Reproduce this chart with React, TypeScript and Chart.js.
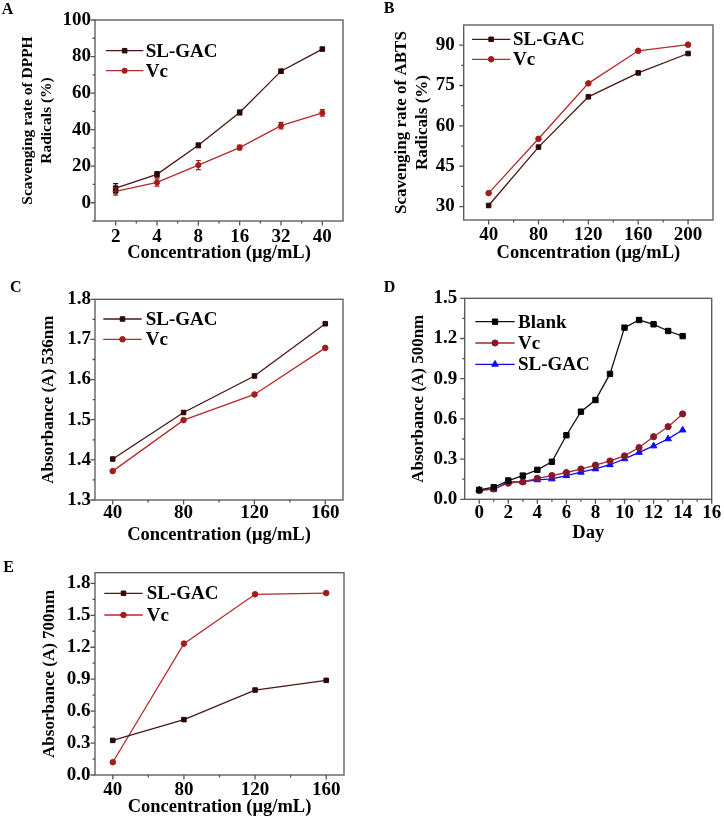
import React, { useEffect, useRef } from 'react';
import { Chart, registerables } from 'chart.js';

Chart.register(...registerables);

const FONT = '"Liberation Serif", "Times New Roman", Times, serif';
Chart.defaults.font.family = FONT;
Chart.defaults.font.weight = 'bold';
Chart.defaults.color = '#000';

// ---------------- Data ----------------
// Panel A: DPPH
const A_CATEGORIES = ['2', '4', '8', '16', '32', '40'];
const A_SLGAC = [8.0, 15.5, 31.4, 49.4, 72.0, 84.1];
const A_SLGAC_ERR = [2.5, 1.5, 1.2, 1.3, 1.0, 0.8];
const A_VC = [6.2, 11.1, 20.6, 30.2, 42.2, 49.2];
const A_VC_ERR = [2.0, 2.0, 2.5, 1.3, 1.8, 1.8];
const A_Y_TICKS = [0, 20, 40, 60, 80, 100];
const A_Y_MINOR = [-10, 10, 30, 50, 70, 90];
const A_X_MINOR = [0.5, 1.5, 2.5, 3.5, 4.5];

// Panel B: ABTS
const B_X = [40, 80, 120, 160, 200];
const B_SLGAC = [30.4, 52.1, 70.8, 79.7, 86.9];
const B_VC = [35.0, 55.2, 75.8, 87.9, 90.2];
const B_X_TICKS = [40, 80, 120, 160, 200];
const B_X_MINOR = [60, 100, 140, 180];
const B_Y_TICKS = [30, 45, 60, 75, 90];
const B_Y_MINOR = [37.5, 52.5, 67.5, 82.5];

// Panel C: Absorbance 536nm
const C_X = [40, 80, 120, 160];
const C_SLGAC = [1.402, 1.518, 1.609, 1.739];
const C_VC = [1.372, 1.499, 1.563, 1.679];
const C_X_TICKS = [40, 80, 120, 160];
const C_X_MINOR = [60, 100, 140];
const C_Y_TICKS = [1.3, 1.4, 1.5, 1.6, 1.7, 1.8];
const C_Y_MINOR = [1.35, 1.45, 1.55, 1.65, 1.75];

// Panel D: Absorbance 500nm over days
const D_DAYS = [0, 1, 2, 3, 4, 5, 6, 7, 8, 9, 10, 11, 12, 13, 14];
const D_BLANK = [0.07, 0.09, 0.14, 0.177, 0.22, 0.28, 0.478, 0.654, 0.741, 0.936, 1.281, 1.338, 1.306, 1.256, 1.218];
const D_VC = [0.065, 0.077, 0.12, 0.13, 0.157, 0.177, 0.2, 0.226, 0.255, 0.286, 0.324, 0.386, 0.467, 0.542, 0.637];
const D_SLGAC = [0.07, 0.075, 0.13, 0.13, 0.145, 0.152, 0.176, 0.202, 0.227, 0.258, 0.302, 0.35, 0.398, 0.451, 0.517];
const D_X_TICKS = [0, 2, 4, 6, 8, 10, 12, 14, 16];
const D_X_MINOR = [1, 3, 5, 7, 9, 11, 13, 15];
const D_Y_TICKS = [0, 0.3, 0.6, 0.9, 1.2, 1.5];
const D_Y_MINOR = [0.15, 0.45, 0.75, 1.05, 1.35];

// Panel E: Absorbance 700nm
const E_X = [40, 80, 120, 160];
const E_SLGAC = [0.325, 0.52, 0.798, 0.889];
const E_VC = [0.12, 1.234, 1.697, 1.709];
const E_X_TICKS = [40, 80, 120, 160];
const E_X_MINOR = [60, 100, 140];
const E_Y_TICKS = [0, 0.3, 0.6, 0.9, 1.2, 1.5, 1.8];
const E_Y_MINOR = [0.15, 0.45, 0.75, 1.05, 1.35, 1.65];

// ---------------- Styles ----------------
const SL_LINE = '#4a1616';
const SL_MARK = '#2e0606';
const VC_LINE = '#b52a2c';
const VC_MARK = '#a31c1c';
const D_VC_LINE = '#9c2a3a';
const D_VC_MARK = '#85182a';
const D_SL_COLOR = '#0a0aff';
const TICK_SIZE = 19;
const TITLE_SIZE = 18.5;

function drawMarker(ctx: CanvasRenderingContext2D, style: string, x: number, y: number, r: number, fill: string, stroke: string) {
  ctx.save();
  ctx.fillStyle = fill;
  ctx.strokeStyle = stroke;
  ctx.lineWidth = 1;
  ctx.beginPath();
  if (style === 'rect') {
    const s = r * Math.SQRT1_2;
    ctx.rect(x - s, y - s, 2 * s, 2 * s);
  } else if (style === 'triangle') {
    let rad = 0;
    ctx.moveTo(x + Math.sin(rad) * r, y - Math.cos(rad) * r);
    rad += (2 * Math.PI) / 3;
    ctx.lineTo(x + Math.sin(rad) * r, y - Math.cos(rad) * r);
    rad += (2 * Math.PI) / 3;
    ctx.lineTo(x + Math.sin(rad) * r, y - Math.cos(rad) * r);
    ctx.closePath();
  } else {
    ctx.arc(x, y, r, 0, Math.PI * 2);
  }
  ctx.fill();
  ctx.stroke();
  ctx.restore();
}

const framePlugin = {
  id: 'frame',
  beforeDatasetsDraw(chart: any, _a: any, o: any) {
    const { ctx, chartArea: a } = chart;
    const xs = chart.scales.x;
    const ys = chart.scales.y;
    ctx.save();
    ctx.strokeStyle = '#555555';
    ctx.lineWidth = 1.3;
    ctx.strokeRect(a.left, a.top, a.right - a.left, a.bottom - a.top);
    ctx.beginPath();
    xs.ticks.forEach((_t: any, i: number) => {
      const p = xs.getPixelForTick(i);
      ctx.moveTo(p, a.bottom);
      ctx.lineTo(p, a.bottom + 4.5);
    });
    (o.minorX || []).forEach((v: number) => {
      const p = xs.getPixelForValue(v);
      ctx.moveTo(p, a.bottom);
      ctx.lineTo(p, a.bottom + 2.5);
    });
    ys.ticks.forEach((_t: any, i: number) => {
      const p = ys.getPixelForTick(i);
      ctx.moveTo(a.left, p);
      ctx.lineTo(a.left - 4.5, p);
    });
    (o.minorY || []).forEach((v: number) => {
      const p = ys.getPixelForValue(v);
      ctx.moveTo(a.left, p);
      ctx.lineTo(a.left - 2.5, p);
    });
    ctx.stroke();
    ctx.restore();
  },
};

const errorPlugin = {
  id: 'errbars',
  afterDatasetsDraw(chart: any) {
    const ctx = chart.ctx;
    const ys = chart.scales.y;
    chart.data.datasets.forEach((ds: any, di: number) => {
      if (!ds.errors) return;
      const meta = chart.getDatasetMeta(di);
      ctx.save();
      ctx.strokeStyle = ds.pointBackgroundColor;
      ctx.lineWidth = 1.2;
      meta.data.forEach((pt: any, i: number) => {
        const v = ds.data[i];
        const e = ds.errors[i];
        const y1 = ys.getPixelForValue(v + e);
        const y2 = ys.getPixelForValue(v - e);
        const x = pt.x;
        ctx.beginPath();
        ctx.moveTo(x, y1);
        ctx.lineTo(x, y2);
        ctx.moveTo(x - 2.5, y1);
        ctx.lineTo(x + 2.5, y1);
        ctx.moveTo(x - 2.5, y2);
        ctx.lineTo(x + 2.5, y2);
        ctx.stroke();
      });
      ctx.restore();
    });
  },
};

const legendPlugin = {
  id: 'seriesLegend',
  afterDatasetsDraw(chart: any, _a: any, o: any) {
    const ctx = chart.ctx;
    ctx.save();
    chart.data.datasets.forEach((ds: any, i: number) => {
      const y = o.y + i * o.dy;
      ctx.strokeStyle = ds.borderColor;
      ctx.lineWidth = ds.borderWidth;
      ctx.beginPath();
      ctx.moveTo(o.x1, y);
      ctx.lineTo(o.x2, y);
      ctx.stroke();
      drawMarker(ctx, ds.pointStyle, (o.x1 + o.x2) / 2, y, ds.pointRadius, ds.pointBackgroundColor, ds.pointBorderColor);
      ctx.fillStyle = '#000';
      ctx.font = `bold ${o.size}px ${FONT}`;
      ctx.textBaseline = 'middle';
      ctx.textAlign = 'left';
      ctx.fillText(ds.label, o.textX, y + 1);
    });
    ctx.restore();
  },
};

function series(label: string, data: any[], line: string, mark: string, style: string, r: number, extra: any = {}) {
  return {
    label,
    data,
    borderColor: line,
    borderWidth: 1.3,
    pointStyle: style,
    pointRadius: r,
    pointBackgroundColor: mark,
    pointBorderColor: mark,
    pointBorderWidth: 1,
    tension: 0,
    fill: false,
    ...extra,
  };
}

function xy(xs: number[], ys: number[]) {
  return xs.map((x, i) => ({ x, y: ys[i] }));
}

type Spec = {
  left: number; top: number; w: number; h: number;
  plot: { l: number; t: number; r: number; b: number };
  x: any; y: any;
  xTicks?: number[]; yTicks: number[];
  xFmt?: (v: number) => string; yFmt: (v: number) => string;
  minorX: number[]; minorY: number[];
  yTickPad: number; xTickMid: number;
  xTitle: string; xTitleMid: number;
  yTitle: string | string[]; yTitleSize: number; yTitleX: number;
  datasets: any[];
  legend: any;
};

function makeConfig(s: Spec): any {
  const tickFont = { size: TICK_SIZE, weight: 'bold' as const, family: FONT, lineHeight: 1.2 };
  const tickHalf = (TICK_SIZE * 1.2) / 2;
  const titleHalf = (TITLE_SIZE * 1.2) / 2;
  const yTitleHalf = (s.yTitleSize * 1.2) / 2;
  const xScale: any = {
    ...s.x,
    afterFit: (sc: any) => { sc.height = s.h - s.plot.b; },
    grid: { display: false, drawTicks: false },
    border: { display: false },
    ticks: {
      padding: s.xTickMid - s.plot.b - tickHalf,
      font: tickFont,
      maxRotation: 0,
      autoSkip: false,
      color: '#000',
      ...(s.xFmt ? { callback: (v: any) => s.xFmt!(Number(v)) } : {}),
    },
    title: {
      display: true,
      text: s.xTitle,
      font: { size: TITLE_SIZE, weight: 'bold', family: FONT, lineHeight: 1.2 },
      color: '#000',
      padding: { top: 0, bottom: s.h - s.xTitleMid - titleHalf },
    },
  };
  if (s.xTicks) {
    const t = s.xTicks;
    xScale.afterBuildTicks = (sc: any) => { sc.ticks = t.map((v) => ({ value: v })); };
  }
  const yScale: any = {
    ...s.y,
    afterFit: (sc: any) => { sc.width = s.plot.l; },
    afterBuildTicks: (sc: any) => { sc.ticks = s.yTicks.map((v) => ({ value: v })); },
    grid: { display: false, drawTicks: false },
    border: { display: false },
    ticks: {
      padding: s.yTickPad,
      font: tickFont,
      color: '#000',
      autoSkip: false,
      callback: (v: any) => s.yFmt(Number(v)),
    },
    title: {
      display: true,
      text: s.yTitle,
      font: { size: s.yTitleSize, weight: 'bold', family: FONT, lineHeight: 1.2 },
      color: '#000',
      padding: { top: s.yTitleX - yTitleHalf, bottom: 0 },
    },
  };
  return {
    type: 'line',
    data: { labels: s.x.type === 'category' ? s.x.labels : undefined, datasets: s.datasets },
    plugins: [framePlugin, errorPlugin, legendPlugin],
    options: {
      responsive: false,
      animation: false,
      events: [],
      layout: { padding: { left: 0, top: s.plot.t, right: s.w - s.plot.r, bottom: 0 } },
      scales: { x: xScale, y: yScale },
      plugins: {
        legend: { display: false },
        tooltip: { enabled: false },
        title: { display: false },
        frame: { minorX: s.minorX, minorY: s.minorY },
        seriesLegend: s.legend,
      },
    },
  };
}

const fmt0 = (v: number) => String(Math.round(v));
const fmt1 = (v: number) => v.toFixed(1);

const SPECS: Spec[] = [
  {
    left: 0, top: 0, w: 362, h: 270,
    plot: { l: 95, t: 20, r: 343, b: 221 },
    x: { type: 'category', labels: A_CATEGORIES, offset: true },
    y: { type: 'linear', min: -10, max: 100 },
    yTicks: A_Y_TICKS, yFmt: fmt0,
    minorX: A_X_MINOR, minorY: A_Y_MINOR,
    yTickPad: 4, xTickMid: 236.7,
    xTitle: 'Concentration (μg/mL)', xTitleMid: 253,
    yTitle: ['Scavenging rate of DPPH', 'Radicals (%)'], yTitleSize: 15.5, yTitleX: 28,
    datasets: [
      series('SL-GAC', A_SLGAC, SL_LINE, SL_MARK, 'rect', 3.2, { errors: A_SLGAC_ERR }),
      series('Vc', A_VC, VC_LINE, VC_MARK, 'circle', 2.6, { errors: A_VC_ERR }),
    ],
    legend: { x1: 106, x2: 143.3, y: 50.7, dy: 20, textX: 145.7, size: TICK_SIZE },
  },
  {
    left: 362, top: 0, w: 362, h: 270,
    plot: { l: 101.7, t: 25, r: 351, b: 220 },
    x: { type: 'linear', min: 20, max: 220 },
    y: { type: 'linear', min: 25, max: 97.5 },
    xTicks: B_X_TICKS, yTicks: B_Y_TICKS, xFmt: fmt0, yFmt: fmt0,
    minorX: B_X_MINOR, minorY: B_Y_MINOR,
    yTickPad: 9, xTickMid: 235.5,
    xTitle: 'Concentration (μg/mL)', xTitleMid: 253,
    yTitle: ['Scavenging rate of ABTS', 'Radicals (%)'], yTitleSize: 17, yTitleX: 40,
    datasets: [
      series('SL-GAC', xy(B_X, B_SLGAC), SL_LINE, SL_MARK, 'rect', 3.2),
      series('Vc', xy(B_X, B_VC), VC_LINE, VC_MARK, 'circle', 2.8),
    ],
    legend: { x1: 110, x2: 148.3, y: 39.3, dy: 20, textX: 151, size: TICK_SIZE },
  },
  {
    left: 0, top: 270, w: 362, h: 280,
    plot: { l: 95, t: 29.3, r: 343, b: 230 },
    x: { type: 'linear', min: 30, max: 170 },
    y: { type: 'linear', min: 1.3, max: 1.8 },
    xTicks: C_X_TICKS, yTicks: C_Y_TICKS, xFmt: fmt0, yFmt: fmt1,
    minorX: C_X_MINOR, minorY: C_Y_MINOR,
    yTickPad: 4, xTickMid: 243.5,
    xTitle: 'Concentration (μg/mL)', xTitleMid: 265,
    yTitle: 'Absorbance (A) 536nm', yTitleSize: 17, yTitleX: 48.3,
    datasets: [
      series('SL-GAC', xy(C_X, C_SLGAC), SL_LINE, SL_MARK, 'rect', 3.2),
      series('Vc', xy(C_X, C_VC), VC_LINE, VC_MARK, 'circle', 2.8),
    ],
    legend: { x1: 103.3, x2: 141.7, y: 49, dy: 20.3, textX: 145.7, size: TICK_SIZE },
  },
  {
    left: 362, top: 270, w: 362, h: 280,
    plot: { l: 102.7, t: 28.3, r: 351.7, b: 229.3 },
    x: { type: 'linear', min: -1, max: 16 },
    y: { type: 'linear', min: 0, max: 1.5 },
    xTicks: D_X_TICKS, yTicks: D_Y_TICKS, xFmt: fmt0, yFmt: fmt1,
    minorX: D_X_MINOR, minorY: D_Y_MINOR,
    yTickPad: 7.5, xTickMid: 243.5,
    xTitle: 'Day', xTitleMid: 263,
    yTitle: 'Absorbance (A) 500nm', yTitleSize: 17, yTitleX: 56.7,
    datasets: [
      series('Blank', xy(D_DAYS, D_BLANK), '#111111', '#000000', 'rect', 3.8),
      series('Vc', xy(D_DAYS, D_VC), D_VC_LINE, D_VC_MARK, 'circle', 3.1),
      series('SL-GAC', xy(D_DAYS, D_SLGAC), D_SL_COLOR, D_SL_COLOR, 'triangle', 3.8),
    ],
    legend: { x1: 113.3, x2: 152.7, y: 51.7, dy: 21.3, textX: 156, size: TICK_SIZE },
  },
  {
    left: 0, top: 545, w: 362, h: 273,
    plot: { l: 95, t: 27.7, r: 344, b: 230 },
    x: { type: 'linear', min: 30, max: 170 },
    y: { type: 'linear', min: 0, max: 1.9 },
    xTicks: E_X_TICKS, yTicks: E_Y_TICKS, xFmt: fmt0, yFmt: fmt1,
    minorX: E_X_MINOR, minorY: E_Y_MINOR,
    yTickPad: 4.5, xTickMid: 245.5,
    xTitle: 'Concentration (μg/mL)', xTitleMid: 262.3,
    yTitle: 'Absorbance (A) 700nm', yTitleSize: 17, yTitleX: 49.3,
    datasets: [
      series('SL-GAC', xy(E_X, E_SLGAC), SL_LINE, SL_MARK, 'rect', 3.2),
      series('Vc', xy(E_X, E_VC), VC_LINE, VC_MARK, 'circle', 2.8),
    ],
    legend: { x1: 104.3, x2: 142.7, y: 48.3, dy: 21.7, textX: 146.7, size: TICK_SIZE },
  },
];

const PANEL_LETTERS = [
  { text: 'A', left: 1.7, top: 0.5 },
  { text: 'B', left: 383.7, top: 0 },
  { text: 'C', left: 10, top: 279 },
  { text: 'D', left: 383.7, top: 279 },
  { text: 'E', left: 3.3, top: 559 },
];

function Panel({ spec }: { spec: Spec }) {
  const ref = useRef<HTMLCanvasElement>(null);
  useEffect(() => {
    const chart = new Chart(ref.current as HTMLCanvasElement, makeConfig(spec));
    return () => chart.destroy();
  }, [spec]);
  return (
    <canvas
      ref={ref}
      width={spec.w}
      height={spec.h}
      style={{ position: 'absolute', left: spec.left, top: spec.top, width: spec.w, height: spec.h }}
    />
  );
}

export default function App() {
  return (
    <div style={{ position: 'absolute', left: 0, top: 0, width: 724, height: 818, background: '#fff', overflow: 'hidden' }}>
      {SPECS.map((s, i) => (
        <Panel key={i} spec={s} />
      ))}
      {PANEL_LETTERS.map((l) => (
        <div
          key={l.text}
          style={{
            position: 'absolute',
            left: l.left,
            top: l.top,
            fontFamily: FONT,
            fontWeight: 'bold',
            fontSize: 16,
            lineHeight: 1,
            color: '#000',
          }}
        >
          {l.text}
        </div>
      ))}
    </div>
  );
}
